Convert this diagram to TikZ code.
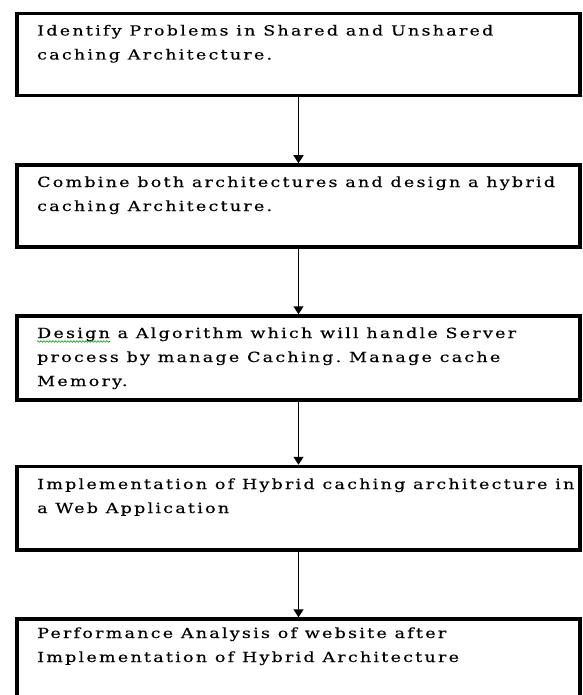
\documentclass[tikz,border=0pt]{standalone}
\usepackage{fontspec}
\setmainfont{DejaVu Serif}[FakeStretch=1.25,LetterSpace=16,FakeBold=0.4]
\usetikzlibrary{arrows.meta,decorations.pathmorphing}
\frenchspacing

\begin{document}
\begin{tikzpicture}[x=1pt,y=1pt,yscale=-1,
  stepbox/.style={draw,line width=3.5pt,minimum width=563pt,inner sep=0pt,rectangle},
  steptext/.style={anchor=north west,inner sep=0pt,align=left,font=\fontsize{14}{24}\selectfont},
  flow/.style={line width=1.6pt,-{Triangle[width=10pt,length=8pt]}}]
\useasboundingbox (0,0) rectangle (582,695);
\clip (0,0) rectangle (582,695);

%Shape: Rectangle
\node[stepbox,minimum height=82pt] (identify) at (298.5,54.5) {};
%Shape: Rectangle
\node[stepbox,minimum height=82pt] (combine) at (298.5,206) {};
%Shape: Rectangle
\node[stepbox,minimum height=84pt] (algorithm) at (298.5,358) {};
%Shape: Rectangle
\node[stepbox,minimum height=83.5pt] (implement) at (298.5,508.25) {};
%Shape: Rectangle
\node[stepbox,minimum height=84pt] (analysis) at (298.5,661) {};

% Text Node
\node[steptext] (identifytxt) at (37,18.5) {\strut Identify Problems in Shared and Unshared\\caching Architecture.};
% Text Node
\node[steptext] (combinetxt) at (37,170) {\strut Combine both architectures and design a hybrid\\caching Architecture.};
% Text Node
\node[steptext] (algorithmtxt) at (37,321) {\strut Design a Algorithm which will\ handle Server\\process by manage Caching. Manage cache\\Memory.};
% Text Node
\node[steptext] (implementtxt) at (37,472) {\strut Implementation of Hybrid caching architecture in\\a Web Application};
% Text Node
\node[steptext] (analysistxt) at (37,621) {\strut Performance Analysis of website after\\Implementation of Hybrid Architecture};

%spell-check mark
\draw[green!60!black,line width=0.6pt,decorate,decoration={snake,amplitude=0.8pt,segment length=3pt}] (37,341.5) -- (110,341.5);

% Arrows
\draw[flow] (identify.south) -- (combine.north);
\draw[flow] (combine.south) -- (algorithm.north);
\draw[flow] (algorithm.south) -- (implement.north);
\draw[flow] (implement.south) -- (analysis.north);

\end{tikzpicture}
\end{document}
